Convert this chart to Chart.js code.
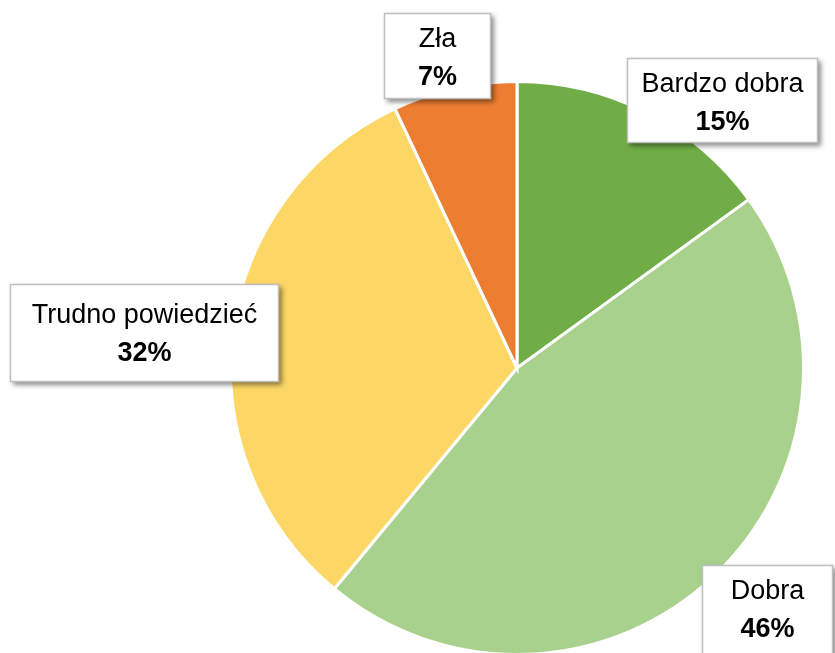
<!DOCTYPE html>
<html><head><meta charset="utf-8">
<script src="https://cdn.jsdelivr.net/npm/chart.js@4.4.0/dist/chart.umd.min.js"></script>
<style>html,body{margin:0;padding:0;background:#fff;overflow:hidden}#wrap{width:835px;height:653px;position:relative;overflow:hidden}</style>
</head><body><div id="wrap"><canvas id="c" width="835" height="665"></canvas></div>
<script>
const categories = ["Bardzo dobra", "Dobra", "Trudno powiedzieć", "Zła"];
const values = [15, 46, 32, 7];
const percentLabels = ["15%", "46%", "32%", "7%"];
const colors = ["#70AD47", "#A9D18E", "#FDD766", "#ED7D31"];

// label box placements (style/layout only)
const boxes = [
  {x: 627, y: 58, w: 191, h: 85, ty: 85},
  {x: 702, y: 565, w: 131, h: 100, ty: 592},
  {x: 10, y: 284, w: 269, h: 98, ty: 316},
  {x: 384, y: 13, w: 107, h: 86, ty: 40}
];

const FONT = "Liberation Sans";
const labelPlugin = {
  id: 'boxLabels',
  afterDatasetsDraw(chart) {
    const ctx = chart.ctx;
    const meta = chart.getDatasetMeta(0);
    meta.data.forEach((arc, i) => {
      const b = boxes[i];
      ctx.save();
      ctx.shadowColor = 'rgba(0,0,0,0.45)';
      ctx.shadowBlur = 5;
      ctx.shadowOffsetX = 3;
      ctx.shadowOffsetY = 3;
      ctx.fillStyle = '#fff';
      ctx.fillRect(b.x, b.y, b.w, b.h);
      ctx.restore();
      ctx.save();
      ctx.strokeStyle = '#BFBFBF';
      ctx.lineWidth = 1.5;
      ctx.strokeRect(b.x + 0.5, b.y + 0.5, b.w - 1, b.h - 1);
      ctx.fillStyle = '#000';
      ctx.textAlign = 'center';
      ctx.textBaseline = 'middle';
      const cx = b.x + b.w / 2;
      ctx.font = "27px '" + FONT + "'";
      ctx.fillText(chart.data.labels[i], cx, b.ty);
      ctx.font = "bold 27px '" + FONT + "'";
      ctx.fillText(percentLabels[i], cx, b.ty + 38);
      ctx.restore();
    });
  }
};

new Chart(document.getElementById('c'), {
  type: 'pie',
  data: {
    labels: categories,
    datasets: [{
      data: values,
      backgroundColor: colors,
      borderColor: '#ffffff',
      borderWidth: 3
    }]
  },
  options: {
    responsive: false,
    animation: false,
    rotation: 0,
    layout: {padding: {left: 229, right: 30, top: 80, bottom: 9}},
    plugins: {legend: {display: false}, tooltip: {enabled: false}},
    elements: {arc: {borderJoinStyle: 'miter'}}
  },
  plugins: [labelPlugin]
});
</script>
</body></html>
